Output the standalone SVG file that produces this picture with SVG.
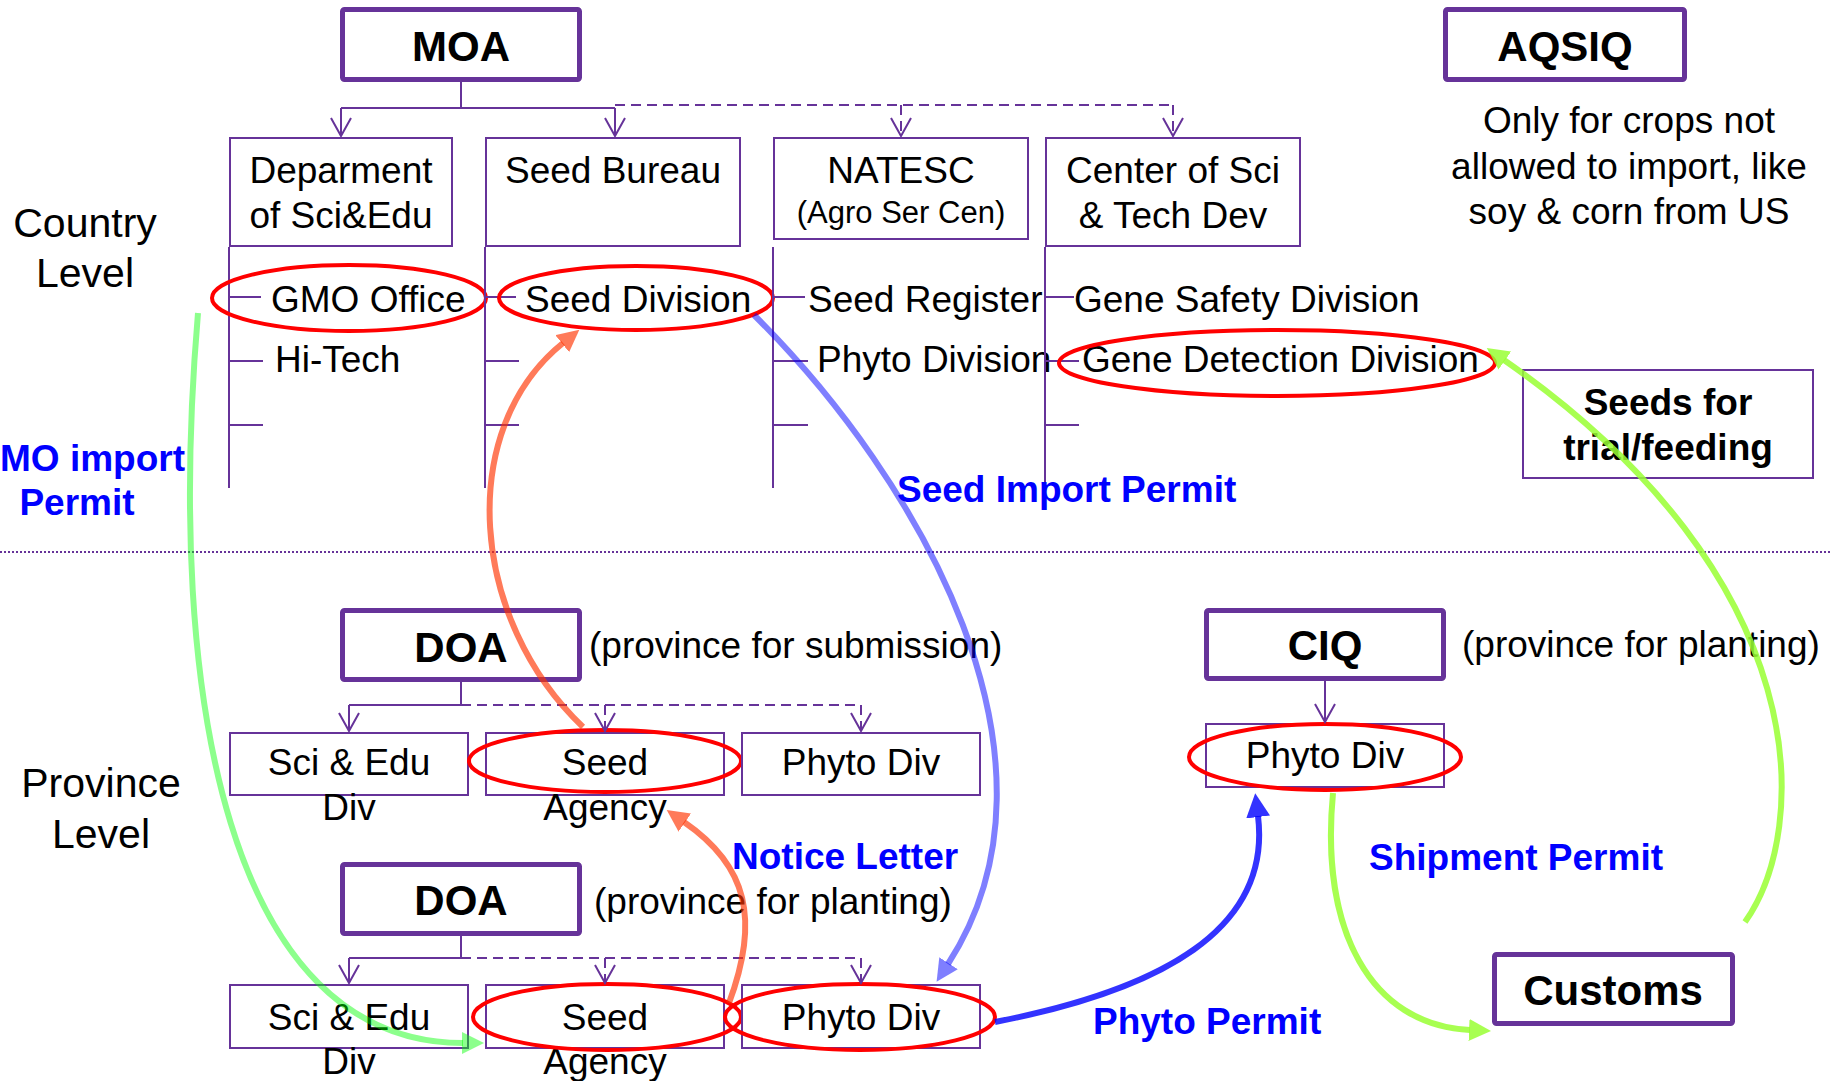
<svg xmlns="http://www.w3.org/2000/svg" width="1831" height="1081" viewBox="0 0 1831 1081">
<style>
text{font-family:"Liberation Sans",Arial,sans-serif;font-size:37px;fill:#000}
.c{text-anchor:middle}
.title{font-weight:bold;font-size:42px;text-anchor:middle}
.bold{font-weight:bold}
.lbl{font-weight:bold;fill:#0000ff}
.lvl{font-size:41px;text-anchor:middle}
.sm{font-size:31px}
.thick{fill:none;stroke:#663399;stroke-width:5}
.thin{fill:none;stroke:#663399;stroke-width:2}
.red{fill:none;stroke:#ff0000;stroke-width:4}
.con{fill:none;stroke:#663399;stroke-width:2}
.arr{marker-end:url(#v)}
.dash{stroke-dasharray:10 6}
.sep{fill:none;stroke:#663399;stroke-width:2;stroke-dasharray:2 2}
.curve{fill:none;stroke-width:6}
</style>
<defs>
<marker id="v" viewBox="-20 -12 22 24" markerWidth="22" markerHeight="24" refX="0" refY="0" orient="auto" markerUnits="userSpaceOnUse"><path d="M-18,-10 L0,0 L-18,10" fill="none" stroke="#663399" stroke-width="2"/></marker>
<marker id="mg" viewBox="0 -11 22 22" markerWidth="22" markerHeight="22" refX="1" refY="0" orient="auto" markerUnits="userSpaceOnUse"><path d="M0,-11 L22,0 L0,11 z" fill="#00ff00" fill-opacity="0.45"/></marker>
<marker id="mc" viewBox="0 -11 22 22" markerWidth="22" markerHeight="22" refX="1" refY="0" orient="auto" markerUnits="userSpaceOnUse"><path d="M0,-11 L22,0 L0,11 z" fill="#ff3300" fill-opacity="0.65"/></marker>
<marker id="ml" viewBox="0 -11 22 22" markerWidth="22" markerHeight="22" refX="1" refY="0" orient="auto" markerUnits="userSpaceOnUse"><path d="M0,-11 L22,0 L0,11 z" fill="#0000ff" fill-opacity="0.5"/></marker>
<marker id="mb" viewBox="0 -12 24 24" markerWidth="24" markerHeight="24" refX="1" refY="0" orient="auto" markerUnits="userSpaceOnUse"><path d="M0,-12 L24,0 L0,12 z" fill="#0000ff" fill-opacity="0.8"/></marker>
<marker id="my" viewBox="0 -11 22 22" markerWidth="22" markerHeight="22" refX="1" refY="0" orient="auto" markerUnits="userSpaceOnUse"><path d="M0,-11 L22,0 L0,11 z" fill="#99ff33" fill-opacity="0.85"/></marker>
</defs>
<rect width="1831" height="1081" fill="#ffffff"/>

<g id="level-labels">
<text class="lvl" x="85" y="237">Country</text>
<text class="lvl" x="85" y="287">Level</text>
<text class="lvl" x="101" y="797">Province</text>
<text class="lvl" x="101" y="848">Level</text>
<line class="sep" x1="0" y1="552" x2="1831" y2="552"/>
</g>

<g id="n-moa"><rect class="thick" x="342.5" y="9.5" width="237" height="70" rx="2"/><text class="title" x="461" y="61">MOA</text></g>
<g id="n-aqsiq"><rect class="thick" x="1445.5" y="9.5" width="239" height="70" rx="2"/><text class="title" x="1565" y="61">AQSIQ</text></g>
<g id="n-aqsiq-note">
<text class="c" x="1629" y="133">Only for crops not</text>
<text class="c" x="1629" y="179">allowed to import, like</text>
<text class="c" x="1629" y="224">soy &amp; corn from US</text>
</g>

<g id="n-dept"><rect class="thin" x="230" y="138" width="222" height="108"/><text class="c" x="341" y="183">Deparment</text><text class="c" x="341" y="228">of Sci&amp;Edu</text></g>
<g id="n-seed-bureau"><rect class="thin" x="486" y="138" width="254" height="108"/><text class="c" x="613" y="183">Seed Bureau</text></g>
<g id="n-natesc"><rect class="thin" x="774" y="138" width="254" height="101"/><text class="c" x="901" y="183">NATESC</text><text class="c sm" x="901" y="223">(Agro Ser Cen)</text></g>
<g id="n-center"><rect class="thin" x="1046" y="138" width="254" height="108"/><text class="c" x="1173" y="183">Center of Sci</text><text class="c" x="1173" y="228">&amp; Tech Dev</text></g>

<g id="n-dept-list">
<path class="con" d="M229,247 V488 M229,297 H261 M229,361 H263 M229,425 H263"/>
<text x="271" y="312">GMO Office</text>
<text x="275" y="372">Hi-Tech</text>
<ellipse class="red" cx="349" cy="298" rx="137" ry="33"/>
</g>
<g id="n-seed-bureau-list">
<path class="con" d="M485,247 V488 M485,297 H516 M485,361 H519 M485,425 H519"/>
<text x="525" y="312">Seed Division</text>
<ellipse class="red" cx="636" cy="298" rx="137" ry="32"/>
</g>
<g id="n-natesc-list">
<path class="con" d="M773,247 V488 M773,297 H805 M773,361 H808 M773,425 H808"/>
<text x="808" y="312">Seed Register</text>
<text x="817" y="372">Phyto Division</text>
</g>
<g id="n-center-list">
<path class="con" d="M1045,247 V482 M1045,297 H1074 M1045,361 H1079 M1045,425 H1079"/>
<text x="1074" y="312">Gene Safety Division</text>
<text x="1082" y="372">Gene Detection Division</text>
<ellipse class="red" cx="1277" cy="363" rx="218" ry="33"/>
</g>

<g id="n-seeds-trial"><rect class="thin" x="1523" y="370" width="290" height="108"/><text class="c bold" x="1668" y="415">Seeds for</text><text class="c bold" x="1668" y="460">trial/feeding</text></g>

<g id="n-doa-sub"><rect class="thick" x="342.5" y="610.5" width="237" height="69" rx="2"/><text class="title" x="461" y="662">DOA</text><text x="589" y="658">(province for submission)</text></g>
<g id="n-sub-sci"><rect class="thin" x="230" y="733" width="238" height="62"/><text class="c" x="349" y="775">Sci &amp; Edu</text><text class="c" x="349" y="820">Div</text></g>
<g id="n-sub-seed"><rect class="thin" x="486" y="733" width="238" height="62"/><text class="c" x="605" y="775">Seed</text><text class="c" x="605" y="820">Agency</text><ellipse class="red" cx="605" cy="761" rx="136" ry="31"/></g>
<g id="n-sub-phyto"><rect class="thin" x="742" y="733" width="238" height="62"/><text class="c" x="861" y="775">Phyto Div</text></g>

<g id="n-doa-plant"><rect class="thick" x="342.5" y="864.5" width="237" height="69" rx="2"/><text class="title" x="461" y="915">DOA</text><text x="594" y="914">(province for planting)</text></g>
<g id="n-plant-sci"><rect class="thin" x="230" y="985" width="238" height="63"/><text class="c" x="349" y="1030">Sci &amp; Edu</text><text class="c" x="349" y="1074">Div</text></g>
<g id="n-plant-seed"><rect class="thin" x="486" y="985" width="238" height="63"/><text class="c" x="605" y="1030">Seed</text><text class="c" x="605" y="1074">Agency</text><ellipse class="red" cx="607" cy="1017" rx="134" ry="33"/></g>
<g id="n-plant-phyto"><rect class="thin" x="742" y="985" width="238" height="63"/><text class="c" x="861" y="1030">Phyto Div</text><ellipse class="red" cx="860" cy="1017" rx="135" ry="33"/></g>

<g id="n-ciq"><rect class="thick" x="1206.5" y="610.5" width="237" height="68" rx="2"/><text class="title" x="1325" y="660">CIQ</text><text x="1462" y="657">(province for planting)</text></g>
<g id="n-ciq-phyto"><rect class="thin" x="1206" y="724" width="238" height="63"/><text class="c" x="1325" y="768">Phyto Div</text><ellipse class="red" cx="1325" cy="757" rx="136" ry="33"/></g>
<g id="n-customs"><rect class="thick" x="1494.5" y="954.5" width="238" height="69" rx="2"/><text class="title" x="1613" y="1005">Customs</text></g>

<g id="connectors">
<path class="con" d="M461,82 V108 H341 M461,108 H615"/>
<path class="con arr" d="M341,108 V136"/>
<path class="con arr" d="M615,108 V136"/>
<path class="con dash" d="M615,105 H1173"/>
<path class="con dash arr" d="M901,105 V136"/>
<path class="con dash arr" d="M1173,105 V136"/>

<path class="con" d="M461,682 V705 H349"/>
<path class="con arr" d="M349,705 V731"/>
<path class="con dash" d="M461,705 H861"/>
<path class="con dash arr" d="M605,705 V731"/>
<path class="con dash arr" d="M861,705 V731"/>

<path class="con" d="M461,936 V958 H349"/>
<path class="con arr" d="M349,958 V983"/>
<path class="con dash" d="M461,958 H861"/>
<path class="con dash arr" d="M605,958 V983"/>
<path class="con dash arr" d="M861,958 V983"/>

<path class="con arr" d="M1325,681 V722"/>

<path class="curve" stroke="#00ff00" stroke-opacity="0.45" marker-end="url(#mg)" d="M198,313 C165,700 230,1043 463,1043"/>
<path class="curve" stroke="#ff3300" stroke-opacity="0.65" marker-end="url(#mc)" d="M583,727 C470,620 455,430 563,343"/>
<path class="curve" stroke="#ff3300" stroke-opacity="0.65" marker-end="url(#mc)" d="M729,1003 C760,920 748,866 684,822"/>
<path class="curve" stroke="#0000ff" stroke-opacity="0.5" marker-end="url(#ml)" d="M754,315 C920,480 1080,760 948,964"/>
<path class="curve" stroke="#0000ff" stroke-opacity="0.8" stroke-width="7" marker-end="url(#mb)" d="M995,1022 C1160,990 1272,930 1258,816"/>
<path class="curve" stroke="#99ff33" stroke-opacity="0.85" marker-end="url(#my)" d="M1333,793 C1320,930 1370,1025 1470,1030"/>
<path class="curve" stroke="#99ff33" stroke-opacity="0.85" marker-end="url(#my)" d="M1745,922 C1810,830 1820,580 1504,360"/>
</g>

<g id="edge-labels">
<text class="lbl" x="0" y="471">MO import</text>
<text class="lbl c" x="77" y="515">Permit</text>
<text class="lbl" x="897" y="502">Seed Import Permit</text>
<text class="lbl" x="732" y="869">Notice Letter</text>
<text class="lbl" x="1369" y="870">Shipment Permit</text>
<text class="lbl" x="1093" y="1034">Phyto Permit</text>
</g>
</svg>
